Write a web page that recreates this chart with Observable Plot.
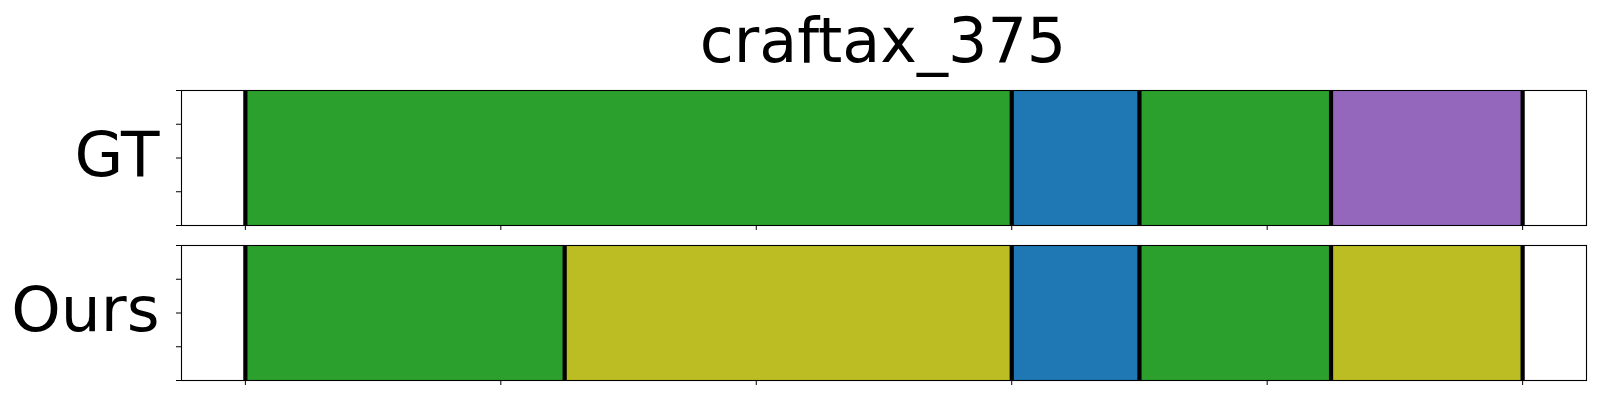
<!DOCTYPE html>
<html>
<head>
<meta charset="utf-8">
<script src="https://cdn.jsdelivr.net/npm/d3@7"></script>
<script src="https://cdn.jsdelivr.net/npm/@observablehq/plot@0.6"></script>
<style>
  html, body { margin: 0; padding: 0; background: #fff; }
  #wrap { position: relative; width: 1600px; height: 400px; overflow: hidden; }
  #title { position: absolute; left: 181px; width: 1404px; top: 10px; text-align: center;
           font-family: "DejaVu Sans"; font-size: 62px; line-height: 62px; color: #000; }
  #chart { position: absolute; left: 0; top: 80px; }
</style>
</head>
<body>
<div id="wrap">
  <div id="title"></div>
  <div id="chart"></div>
</div>
<script>
// Data
const titleText = "craftax_375";
const rows = ["GT", "Ours"];
const gtStarts   = [0, 0.6, 0.7, 0.85];
const gtEnds     = [0.6, 0.7, 0.85, 1.0];
const gtClasses  = [2, 0, 2, 4];
const oursStarts  = [0, 0.25, 0.6, 0.7, 0.85];
const oursEnds    = [0.25, 0.6, 0.7, 0.85, 1.0];
const oursClasses = [2, 8, 0, 2, 8];
const xTicks = [0, 0.2, 0.4, 0.6, 0.8, 1.0];
const yTicks = [0, 0.25, 0.5, 0.75, 1.0];
const classIds = d3.range(10);

document.getElementById("title").textContent = titleText;

// Build tables
const segs = [
  ...gtStarts.map((s, i) => ({row: "GT", start: s, end: gtEnds[i], cls: gtClasses[i]})),
  ...oursStarts.map((s, i) => ({row: "Ours", start: s, end: oursEnds[i], cls: oursClasses[i]}))
];
const bounds = [
  ...[...gtStarts, gtEnds[gtEnds.length - 1]].map(v => ({row: "GT", t: v})),
  ...[...oursStarts, oursEnds[oursEnds.length - 1]].map(v => ({row: "Ours", t: v}))
];

const chart = Plot.plot({
  width: 1600,
  height: 320,
  marginLeft: 181,
  marginRight: 14,
  marginTop: 10,
  marginBottom: 20,
  style: {fontFamily: "DejaVu Sans", background: "transparent"},
  x: {domain: [-0.05, 1.05]},
  y: {domain: [0, 1]},
  fy: {domain: rows, paddingInner: 20 / 155, paddingOuter: 0, round: false},
  color: {type: "ordinal", domain: classIds, range: d3.schemeCategory10},
  marks: [
    Plot.rect(segs, {x1: "start", x2: "end", y1: 0, y2: 1, fy: "row", fill: "cls"}),
    Plot.ruleX(bounds, {x: "t", fy: "row", stroke: "#000", strokeWidth: 4.2}),
    Plot.frame({stroke: "#000", strokeWidth: 1.1}),
    Plot.axisX({ticks: xTicks, tickFormat: () => "", tickSize: 5, label: null, facetAnchor: null, strokeWidth: 1}),
    Plot.axisY({ticks: yTicks, tickFormat: () => "", tickSize: 5, label: null, strokeWidth: 1}),
    Plot.axisFy({anchor: "left", tickSize: 0, tickPadding: 22, fontSize: 63, dy: -2.5, label: null, fill: "#000"})
  ]
});
document.getElementById("chart").appendChild(chart);
</script>
</body>
</html>
